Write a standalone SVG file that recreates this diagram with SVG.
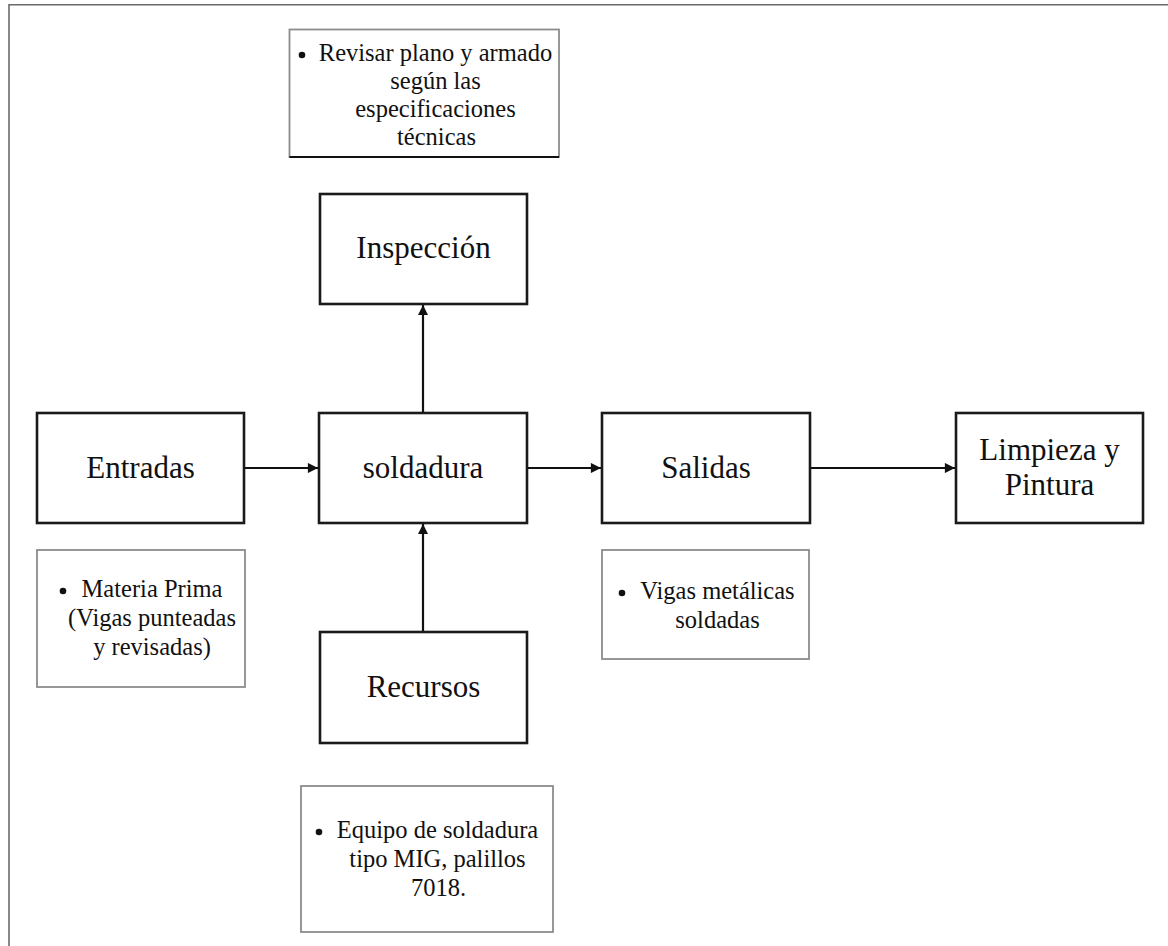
<svg xmlns="http://www.w3.org/2000/svg" width="1168" height="946" viewBox="0 0 1168 946">
  <style>
    .frame { stroke: #6b6b6b; stroke-width: 1.6; fill: none; }
    .box { fill: #ffffff; stroke: #1a1a1a; stroke-width: 2.6; }
    .note { fill: #ffffff; stroke: #8c8c8c; stroke-width: 1.8; }
    .label { font-family: "Liberation Serif", "Times New Roman", serif; font-size: 31px; fill: #111; text-anchor: middle; }
    .txt { font-family: "Liberation Serif", "Times New Roman", serif; font-size: 24.5px; fill: #111; text-anchor: middle; }
    .bullet { fill: #111; }
    .link { stroke: #111; stroke-width: 2.2; fill: none; marker-end: url(#arrow); }
  </style>
  <defs>
    <marker id="arrow" viewBox="0 0 10 10" refX="10" refY="5" markerWidth="5" markerHeight="4.6" markerUnits="strokeWidth" orient="auto">
      <path d="M0,0 L10,5 L0,10 z" fill="#111"/>
    </marker>
  </defs>

  <rect width="1168" height="946" fill="#ffffff"/>
  <!-- page frame -->
  <path class="frame" d="M9,946 V4.8 H1168"/>

  <!-- connectors -->
  <g id="connectors">
    <line class="link" x1="244" y1="468" x2="318" y2="468"/>
    <line class="link" x1="527" y1="468" x2="601" y2="468"/>
    <line class="link" x1="810" y1="468" x2="955" y2="468"/>
    <line class="link" x1="423" y1="413" x2="423" y2="305"/>
    <line class="link" x1="423" y1="632" x2="423" y2="524"/>
  </g>

  <!-- process boxes -->
  <g id="inspeccion">
    <rect class="box" x="320" y="194" width="207" height="110"/>
    <text class="label" x="423.5" y="258">Inspección</text>
  </g>
  <g id="entradas">
    <rect class="box" x="37" y="413" width="207" height="110"/>
    <text class="label" x="140.5" y="478">Entradas</text>
  </g>
  <g id="soldadura">
    <rect class="box" x="319" y="413" width="208" height="110"/>
    <text class="label" x="423" y="478">soldadura</text>
  </g>
  <g id="salidas">
    <rect class="box" x="602" y="413" width="208" height="110"/>
    <text class="label" x="706" y="478">Salidas</text>
  </g>
  <g id="limpieza">
    <rect class="box" x="956" y="413" width="187" height="110"/>
    <text class="label" x="1049.5" y="460">Limpieza y</text>
    <text class="label" x="1049.5" y="495">Pintura</text>
  </g>
  <g id="recursos">
    <rect class="box" x="320" y="632" width="207" height="111"/>
    <text class="label" x="423.5" y="697">Recursos</text>
  </g>

  <!-- bullet notes -->
  <g id="nota-inspeccion">
    <rect class="note" x="289.5" y="29.5" width="269.5" height="127.5"/>
    <line x1="289.5" y1="157" x2="559" y2="157" stroke="#111" stroke-width="2"/>
    <circle class="bullet" cx="302" cy="55" r="3.3"/>
    <text class="txt" x="435.5" y="61">Revisar plano y armado</text>
    <text class="txt" x="435.5" y="89">según las</text>
    <text class="txt" x="435.5" y="117">especificaciones</text>
    <text class="txt" x="436.5" y="145">técnicas</text>
  </g>
  <g id="nota-entradas">
    <rect class="note" x="37" y="550" width="208" height="137"/>
    <circle class="bullet" cx="63" cy="591" r="3.3"/>
    <text class="txt" x="152" y="597">Materia Prima</text>
    <text class="txt" x="152" y="626">(Vigas punteadas</text>
    <text class="txt" x="152" y="655">y revisadas)</text>
  </g>
  <g id="nota-salidas">
    <rect class="note" x="602" y="550" width="207" height="109"/>
    <circle class="bullet" cx="622" cy="593" r="3.3"/>
    <text class="txt" x="717.5" y="599">Vigas metálicas</text>
    <text class="txt" x="717.5" y="628">soldadas</text>
  </g>
  <g id="nota-recursos">
    <rect class="note" x="301" y="786" width="252" height="146"/>
    <circle class="bullet" cx="319" cy="832" r="3.3"/>
    <text class="txt" x="437.5" y="838">Equipo de soldadura</text>
    <text class="txt" x="437.5" y="867">tipo MIG, palillos</text>
    <text class="txt" x="438.5" y="896">7018.</text>
  </g>
</svg>
